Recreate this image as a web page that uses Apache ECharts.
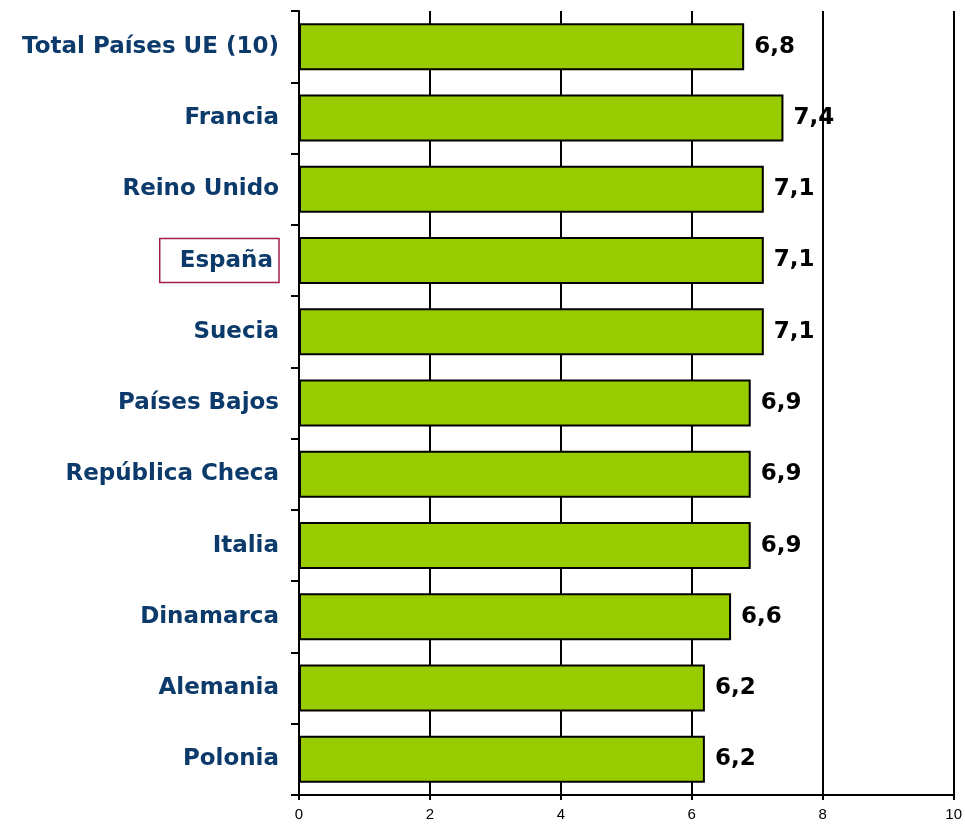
<!DOCTYPE html>
<html>
<head>
<meta charset="utf-8">
<script src="https://cdn.jsdelivr.net/npm/echarts@6/dist/echarts.min.js"></script>
<style>
  html, body { margin: 0; padding: 0; background: #fff; }
  #main { width: 965px; height: 826px; }
</style>
</head>
<body>
<div id="main"></div>
<script>
// países, de arriba abajo
const countries = [
  'Total Países UE (10)', 'Francia', 'Reino Unido', 'España', 'Suecia',
  'Países Bajos', 'República Checa', 'Italia', 'Dinamarca', 'Alemania', 'Polonia'
];
// valor medio
const scores = [6.8, 7.4, 7.1, 7.1, 7.1, 6.9, 6.9, 6.9, 6.6, 6.2, 6.2];
const highlighted = 'España';

const chart = echarts.init(document.getElementById('main'));

const option = {
  animation: false,
  grid: { left: 299, right: 9, top: 11, bottom: 31 },
  xAxis: {
    type: 'value',
    min: 0,
    max: 10,
    interval: 2,
    axisLine: { show: true, lineStyle: { color: '#000', width: 2 } },
    axisTick: { show: true, length: 5, lineStyle: { color: '#000', width: 2 } },
    axisLabel: { color: '#000', fontSize: 15, fontFamily: 'Liberation Sans', margin: 12 },
    splitLine: { show: true, lineStyle: { color: '#000', width: 2 } }
  },
  yAxis: {
    type: 'category',
    inverse: true,
    data: countries,
    axisLine: { show: true, lineStyle: { color: '#000', width: 2 } },
    axisTick: { show: true, length: 8, lineStyle: { color: '#000', width: 2 } },
    axisLabel: {
      margin: 20,
      color: '#0b3a6b',
      fontSize: 23,
      fontWeight: 'bold',
      fontFamily: 'DejaVu Sans',
      formatter: (v) => v === highlighted ? '{box|' + v + '}' : v,
      rich: {
        box: {
          color: '#0b3a6b',
          fontSize: 23,
          fontWeight: 'bold',
          fontFamily: 'DejaVu Sans',
          borderColor: '#a31f4a',
          borderWidth: 1.5,
          padding: [11, 6, 10, 20]
        }
      }
    }
  },
  series: [{
    type: 'bar',
    data: scores,
    barWidth: 47,
    itemStyle: { color: '#99cc00', borderColor: '#000', borderWidth: 2 },
    label: {
      show: true,
      position: 'right',
      distance: 10,
      color: '#000',
      fontSize: 23,
      fontWeight: 'bold',
      fontFamily: 'DejaVu Sans',
      formatter: (p) => p.value.toFixed(1).replace('.', ',')
    }
  }]
};

chart.setOption(option);
</script>
</body>
</html>
